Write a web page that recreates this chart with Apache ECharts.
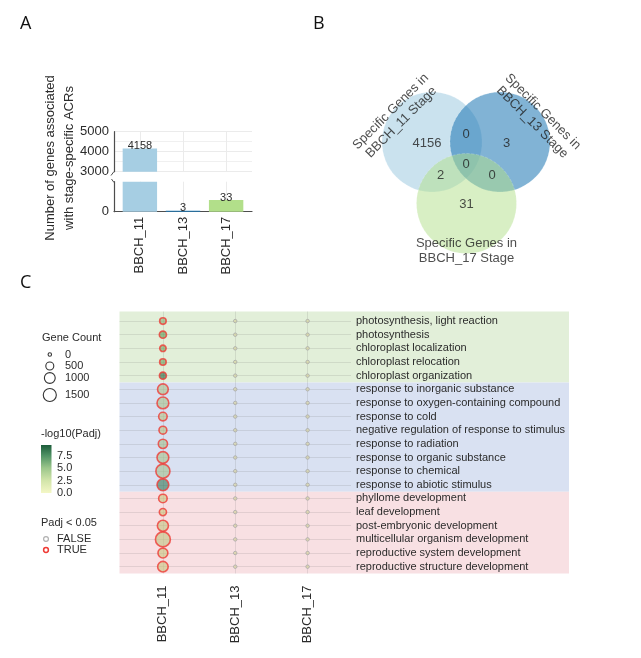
<!DOCTYPE html>
<html><head><meta charset="utf-8">
<script src="https://cdn.jsdelivr.net/npm/echarts@6/dist/echarts.min.js"></script>
<style>html,body{margin:0;padding:0;background:#fff}#c{width:641px;height:658px}</style>
</head><body><div id="c"></div>
<script>
// ---------- Panel A data ----------
const stages = ['BBCH_11', 'BBCH_13', 'BBCH_17'];
const stageGeneCounts = [4158, 3, 33];
const stageColors = ['#a6cee3', '#1f78b4', '#b2df8a'];

// ---------- Panel B data ----------
const vennSetLabels = ['Specific Genes in\nBBCH_11 Stage', 'Specific Genes in\nBBCH_13 Stage', 'Specific Genes in\nBBCH_17 Stage'];
const vennRegions = ['11', '13', '17', '11&13', '11&17', '13&17', '11&13&17'];
const vennCounts = [4156, 3, 31, 0, 2, 0, 0];

// ---------- Panel C data ----------
const goTerms = [
  'photosynthesis, light reaction', 'photosynthesis', 'chloroplast localization', 'chloroplast relocation', 'chloroplast organization',
  'response to inorganic substance', 'response to oxygen-containing compound', 'response to cold',
  'negative regulation of response to stimulus', 'response to radiation', 'response to organic substance',
  'response to chemical', 'response to abiotic stimulus',
  'phyllome development', 'leaf development', 'post-embryonic development', 'multicellular organism development',
  'reproductive system development', 'reproductive structure development'
];
const goGroups = ['photo', 'photo', 'photo', 'photo', 'photo',
  'resp', 'resp', 'resp', 'resp', 'resp', 'resp', 'resp', 'resp',
  'dev', 'dev', 'dev', 'dev', 'dev', 'dev'];
const geneCountBBCH11 = [300, 380, 280, 300, 360, 980, 1200, 580, 480, 700, 1200, 1750, 1200, 580, 380, 1050, 1980, 820, 940];
const geneCountBBCH13 = [0, 0, 0, 0, 0, 0, 0, 0, 0, 0, 0, 0, 0, 0, 0, 0, 0, 0, 0];
const geneCountBBCH17 = [0, 0, 0, 0, 0, 0, 0, 0, 0, 0, 0, 0, 0, 0, 0, 0, 0, 0, 0];
const logPadjBBCH11 = [3.8, 5.0, 4.5, 4.6, 8.5, 2.6, 2.8, 2.3, 2.2, 3.0, 2.8, 3.0, 7.0, 1.6, 1.5, 1.8, 1.9, 1.6, 1.6];
const logPadjBBCH13 = [0, 0, 0, 0, 0, 0, 0, 0, 0, 0, 0, 0, 0, 0, 0, 0, 0, 0, 0];
const logPadjBBCH17 = [0, 0, 0, 0, 0, 0, 0, 0, 0, 0, 0, 0, 0, 0, 0, 0, 0, 0, 0];
const sigBBCH11 = [true, true, true, true, true, true, true, true, true, true, true, true, true, true, true, true, true, true, true];
const sigBBCH13 = [false, false, false, false, false, false, false, false, false, false, false, false, false, false, false, false, false, false, false];
const sigBBCH17 = [false, false, false, false, false, false, false, false, false, false, false, false, false, false, false, false, false, false, false];
const sizeLegendValues = [0, 500, 1000, 1500];
const colorbarTicks = [0, 2.5, 5, 7.5];

// ---------- styling helpers ----------
const FONT = "'Liberation Sans', Arial, sans-serif";
const TXT = '#2b2b2b';
const groupColors = { photo: '#e2efd9', resp: '#d9e1f2', dev: '#f8e0e3' };
const fillStops = [[0, [225, 222, 160]], [1.5, [205, 196, 125]], [3, [163, 192, 140]], [5, [95, 155, 85]], [7, [55, 120, 85]], [9.6, [20, 85, 45]]];
function fillColor(v) {
  let a = fillStops[0], b = fillStops[fillStops.length - 1];
  for (let i = 0; i < fillStops.length - 1; i++) {
    if (v >= fillStops[i][0] && v <= fillStops[i + 1][0]) { a = fillStops[i]; b = fillStops[i + 1]; break; }
  }
  const t = b[0] === a[0] ? 0 : (v - a[0]) / (b[0] - a[0]);
  const c = a[1].map((x, k) => Math.round(x + (b[1][k] - x) * t));
  return 'rgba(' + c.join(',') + ',0.75)';
}
function dotSize(n) { return Math.sqrt(14 + 0.11 * n) - 0.3; }

// ---------- dot plot data ----------
const columns = [
  { counts: geneCountBBCH11, logp: logPadjBBCH11, sig: sigBBCH11 },
  { counts: geneCountBBCH13, logp: logPadjBBCH13, sig: sigBBCH13 },
  { counts: geneCountBBCH17, logp: logPadjBBCH17, sig: sigBBCH17 }
];
const dotData = [];
columns.forEach((col, ci) => {
  goTerms.forEach((t, ri) => {
    dotData.push({
      value: [ci, ri, col.counts[ri], col.logp[ri]],
      symbolSize: dotSize(col.counts[ri]),
      itemStyle: {
        color: fillColor(col.logp[ri]),
        borderColor: col.sig[ri] ? '#ef3b36' : '#a8a8a8',
        borderWidth: col.sig[ri] ? 1.6 : 1
      }
    });
  });
});
const rowIdx = goTerms.map((_, i) => i);
const yMinC = -0.7, yMaxC = 18.5;
// band areas from groups
const bandAreas = [];
let start = 0;
for (let i = 1; i <= goGroups.length; i++) {
  if (i === goGroups.length || goGroups[i] !== goGroups[start]) {
    bandAreas.push([
      { yAxis: start === 0 ? yMinC : start - 0.5, itemStyle: { color: groupColors[goGroups[start]] } },
      { yAxis: i === goGroups.length ? yMaxC : i - 0.5 }
    ]);
    start = i;
  }
}

// ---------- Venn layout (pixel frame) ----------
const vennOrigin = [466, 142];
const vennR = 50;
const circleOffsets = [[-34, 0], [34, 0], [0.5, 61.5]];
const circleStyle = [['#a6cee3', 0.6], ['#1f78b4', 0.56], ['#b2df8a', 0.5]];
const regionOffsets = { '11': [-39, 1.5], '13': [40.5, 1.5], '17': [0.5, 62.5], '11&13': [0, -8], '11&17': [-25.5, 33], '13&17': [26, 33], '11&13&17': [0, 22] };
const setLabelPos = [[396, 117, 45], [537.5, 117, -45], [466.5, 250.5, 0]];

const vennCircleData = circleOffsets.map((o, i) => ({
  value: [vennOrigin[0] + o[0], vennOrigin[1] + o[1]],
  itemStyle: { color: circleStyle[i][0], opacity: circleStyle[i][1], borderColor: 'rgba(255,255,255,0.5)', borderWidth: 0.8, borderType: 'dashed' }
}));
const vennCountData = vennRegions.map((r, i) => ({
  value: [vennOrigin[0] + regionOffsets[r][0], vennOrigin[1] + regionOffsets[r][1]],
  label: { formatter: String(vennCounts[i]) }
}));
const vennLabelData = vennSetLabels.map((s, i) => ({
  value: [setLabelPos[i][0], setLabelPos[i][1]],
  label: { formatter: s, rotate: setLabelPos[i][2] }
}));

// ---------- legends (graphic) ----------
const graphics = [];
function txt(x, y, s, size, extra) {
  graphics.push(Object.assign({ type: 'text', x: x, y: y, style: Object.assign({ text: s, font: size + 'px ' + FONT, fill: TXT, align: 'left', verticalAlign: 'middle' }, extra || {}) }));
}
// panel letters
[['A', 20, 24], ['B', 313, 24], ['C', 20, 283]].forEach(p => {
  graphics.push({ type: 'text', x: p[1], y: p[2], style: { text: p[0], font: "18px 'Open Sans', 'Liberation Sans', sans-serif", fill: '#111', align: 'left', verticalAlign: 'middle' } });
});
// panel A y title
graphics.push({ type: 'text', x: 60, y: 158, rotation: Math.PI / 2, style: { text: 'Number of genes associated\nwith stage-specific ACRs', font: '13px ' + FONT, fill: TXT, align: 'center', verticalAlign: 'middle', lineHeight: 19 } });
// axis break marks
graphics.push({ type: 'line', shape: { x1: 111, y1: 175.5, x2: 114, y2: 171.5 }, style: { stroke: '#4d4d4d', lineWidth: 1 } });
graphics.push({ type: 'line', shape: { x1: 111.5, y1: 179, x2: 114, y2: 182.5 }, style: { stroke: '#4d4d4d', lineWidth: 1 } });
// Gene Count legend
txt(42, 338, 'Gene Count', 11);
const sizeLegendY = [354.5, 366, 378, 395];
sizeLegendValues.forEach((v, i) => {
  graphics.push({ type: 'circle', shape: { cx: 49.8, cy: sizeLegendY[i], r: dotSize(v) / 2 }, style: { fill: 'none', stroke: '#333', lineWidth: 1.1 } });
  txt(65, sizeLegendY[i], String(v), 11);
});
// colour bar legend
txt(41, 434, '-log10(Padj)', 11);
const cbTop = 445, cbBot = 493, cbMax = 9.7;
graphics.push({ type: 'rect', shape: { x: 41, y: cbTop, width: 10.5, height: cbBot - cbTop },
  style: { fill: new echarts.graphic.LinearGradient(0, 1, 0, 0, [
    { offset: 0, color: '#f4f7c6' }, { offset: 0.26, color: '#d2e5aa' }, { offset: 0.52, color: '#9cc68b' },
    { offset: 0.78, color: '#4f9264' }, { offset: 1, color: '#1c5c3a' }]) } });
colorbarTicks.forEach(v => {
  const y = cbBot - (v / cbMax) * (cbBot - cbTop);
  txt(57, y, v.toFixed(1), 11);
});
// Padj legend
txt(41, 523, 'Padj < 0.05', 11);
graphics.push({ type: 'circle', shape: { cx: 46, cy: 539, r: 2.4 }, style: { fill: 'none', stroke: '#b0b0b0', lineWidth: 1.2 } });
graphics.push({ type: 'circle', shape: { cx: 46, cy: 550, r: 2.4 }, style: { fill: 'none', stroke: '#ef3b36', lineWidth: 1.5 } });
txt(57, 539, 'FALSE', 11);
txt(57, 550, 'TRUE', 11);

// ---------- chart ----------
const chart = echarts.init(document.getElementById('c'), null, { renderer: 'canvas' });
const gridLine = { show: true, lineStyle: { color: '#ebebeb', width: 1 } };
const option = {
  animation: false,
  backgroundColor: '#ffffff',
  textStyle: { fontFamily: FONT },
  grid: [
    { left: 114, top: 131.7, width: 138, height: 40 },          // A upper
    { left: 114, top: 181.7, width: 138, height: 30 },          // A lower
    { left: 119.5, top: 311.5, width: 231.5, height: 262 },     // C dots
    { left: 119.5, top: 311.5, width: 449.5, height: 262 },     // C bands
    { left: 0, top: 0, width: 641, height: 658 }               // pixel frame (Venn)
  ],
  xAxis: [
    { gridIndex: 0, type: 'value', min: -0.6, max: 2.6, axisLine: { show: false }, axisLabel: { show: false },
      axisTick: { show: false, customValues: [0, 1, 2] }, splitLine: gridLine },
    { gridIndex: 1, type: 'value', min: -0.6, max: 2.6,
      axisLine: { show: true, onZero: false, lineStyle: { color: '#4d4d4d', width: 1.2 } },
      axisTick: { show: false, customValues: [0, 1, 2] },
      axisLabel: { customValues: [0, 1, 2], formatter: v => stages[v], rotate: 90, margin: 5, fontSize: 13, color: TXT, fontFamily: FONT },
      splitLine: gridLine },
    { gridIndex: 2, type: 'value', min: -0.6, max: 2.6, axisLine: { show: false },
      axisTick: { show: false, customValues: [0, 1, 2] },
      axisLabel: { customValues: [0, 1, 2], formatter: v => stages[v], rotate: 90, margin: 12, fontSize: 13, color: TXT, fontFamily: FONT },
      splitLine: { show: true, lineStyle: { color: 'rgba(90,90,90,0.14)', width: 1 } } },
    { gridIndex: 3, type: 'value', min: 0, max: 1, show: false },
    { gridIndex: 4, type: 'value', min: 0, max: 641, show: false }
  ],
  yAxis: [
    { gridIndex: 0, type: 'value', min: 3000, max: 5000, interval: 1000,
      axisLine: { show: true, onZero: false, lineStyle: { color: '#4d4d4d', width: 1.2 } }, axisTick: { show: false },
      axisLabel: { margin: 5, fontSize: 13, color: TXT, fontFamily: FONT, formatter: v => String(v) },
      splitLine: gridLine, minorTick: { show: false, splitNumber: 2 }, minorSplitLine: { show: true, lineStyle: { color: '#f0f0f0' } } },
    { gridIndex: 1, type: 'value', min: 0, max: 85,
      axisLine: { show: true, onZero: false, lineStyle: { color: '#4d4d4d', width: 1.2 } }, axisTick: { show: false, customValues: [0] },
      axisLabel: { customValues: [0], margin: 5, fontSize: 13, color: TXT, fontFamily: FONT, formatter: v => String(v) },
      splitLine: { show: false } },
    { gridIndex: 2, type: 'value', min: yMinC, max: yMaxC, inverse: true, position: 'right',
      axisLine: { show: false, onZero: false }, axisTick: { show: false, customValues: rowIdx },
      axisLabel: { customValues: rowIdx, formatter: v => goTerms[v], margin: 5, fontSize: 11, color: TXT, fontFamily: FONT, align: 'left' },
      splitLine: { show: true, lineStyle: { color: 'rgba(90,90,90,0.14)', width: 1 } } },
    { gridIndex: 3, type: 'value', min: yMinC, max: yMaxC, inverse: true, show: false },
    { gridIndex: 4, type: 'value', min: 0, max: 658, inverse: true, show: false }
  ],
  series: [
    { type: 'scatter', xAxisIndex: 3, yAxisIndex: 3, z: -5, silent: true, symbolSize: 0, data: [[0.5, 0]],
      markArea: { silent: true, z: -10, data: bandAreas } },
    { type: 'bar', xAxisIndex: 0, yAxisIndex: 0, barWidth: 34.4, clip: true,
      data: stages.map((s, i) => ({ value: [i, stageGeneCounts[i]], itemStyle: { color: stageColors[i] } })),
      label: { show: true, position: 'top', distance: -3, fontSize: 11, color: TXT, fontFamily: FONT,
        formatter: p => (p.value[1] >= 3000 ? String(p.value[1]) : '') } },
    { type: 'bar', xAxisIndex: 1, yAxisIndex: 1, barWidth: 34.4, clip: true,
      data: stages.map((s, i) => ({ value: [i, stageGeneCounts[i]], itemStyle: { color: stageColors[i] } })),
      label: { show: true, position: 'top', distance: -3, fontSize: 11, color: TXT, fontFamily: FONT,
        formatter: p => (p.value[1] <= 85 ? String(p.value[1]) : '') } },
    { type: 'scatter', xAxisIndex: 2, yAxisIndex: 2, z: 3, data: dotData, symbol: 'circle' },
    { type: 'scatter', xAxisIndex: 4, yAxisIndex: 4, symbolSize: vennR * 2, data: vennCircleData, silent: true, z: 2 },
    { type: 'scatter', xAxisIndex: 4, yAxisIndex: 4, symbolSize: 0, data: vennCountData, silent: true, z: 4,
      label: { show: true, position: 'inside', fontSize: 13, color: '#222', fontFamily: FONT } },
    { type: 'scatter', xAxisIndex: 4, yAxisIndex: 4, symbolSize: 0, data: vennLabelData, silent: true, z: 4,
      label: { show: true, position: 'inside', fontSize: 13, lineHeight: 15, color: '#222', fontFamily: FONT, align: 'center' } }
  ],
  graphic: graphics
};
chart.setOption(option);
</script>
</body></html>
